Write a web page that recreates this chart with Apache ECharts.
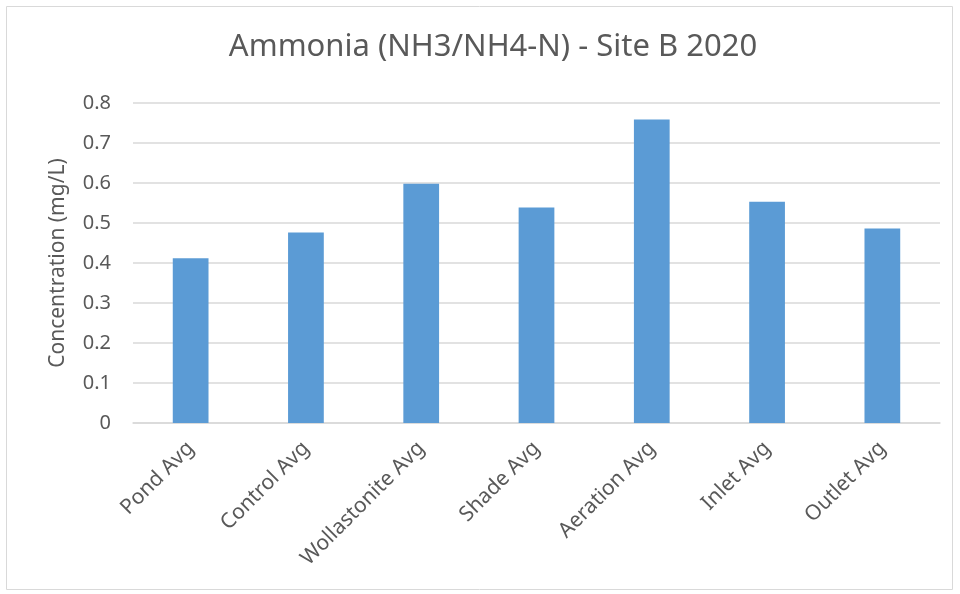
<!DOCTYPE html>
<html lang="en">
<head>
  <meta charset="UTF-8">
  <title>Ammonia (NH3/NH4-N) - Site B 2020</title>
  <script src="https://cdn.jsdelivr.net/npm/echarts@6/dist/echarts.min.js"></script>
  <style>
    body { margin: 0; background: #fff; }
    #chart { width: 960px; height: 594px; }
  </style>
</head>
<body>
  <div id="chart"></div>
  <script>
    // site B averages
    const categories = ['Pond Avg', 'Control Avg', 'Wollastonite Avg', 'Shade Avg', 'Aeration Avg', 'Inlet Avg', 'Outlet Avg'];
    const ammonia = [0.412, 0.476, 0.598, 0.539, 0.759, 0.553, 0.486];

    const textColor = '#595959';
    const font = 'Noto Sans';

    const chart = echarts.init(document.getElementById('chart'));
    chart.setOption({
      animation: false,
      title: {
        text: 'Ammonia (NH3/NH4-N) - Site B 2020',
        left: 488,
        textAlign: 'center',
        top: 27,
        textStyle: { fontFamily: font, fontSize: 31, fontWeight: 'normal', color: textColor }
      },
      // light frame around the whole chart
      graphic: [{
        type: 'rect',
        shape: { x: 6.5, y: 6.5, width: 946, height: 583 },
        style: { fill: 'none', stroke: '#d9d9d9', lineWidth: 1 },
        silent: true
      }],
      grid: { left: 133, right: 20, top: 103, bottom: 171 },
      xAxis: {
        type: 'category',
        data: categories,
        axisLine: { lineStyle: { color: '#d9d9d9', width: 1.5 } },
        axisTick: { show: false },
        axisLabel: {
          interval: 0,
          rotate: 45,
          margin: 22,
          color: textColor,
          fontFamily: font,
          fontSize: 21
        }
      },
      yAxis: {
        type: 'value',
        min: 0,
        max: 0.8,
        interval: 0.1,
        name: 'Concentration (mg/L)',
        nameLocation: 'middle',
        nameGap: 64,
        nameTextStyle: { color: textColor, fontFamily: font, fontSize: 21 },
        axisLine: { show: false },
        axisTick: { show: false },
        axisLabel: {
          margin: 22,
          color: textColor,
          fontFamily: font,
          fontSize: 20,
          formatter: v => v === 0 ? '0' : v.toFixed(1)
        },
        splitLine: { lineStyle: { color: '#d9d9d9', width: 1.5 } }
      },
      series: [{
        name: 'Ammonia',
        type: 'bar',
        data: ammonia,
        barWidth: '31%',
        itemStyle: { color: '#5b9bd5' }
      }]
    });
  </script>
</body>
</html>
